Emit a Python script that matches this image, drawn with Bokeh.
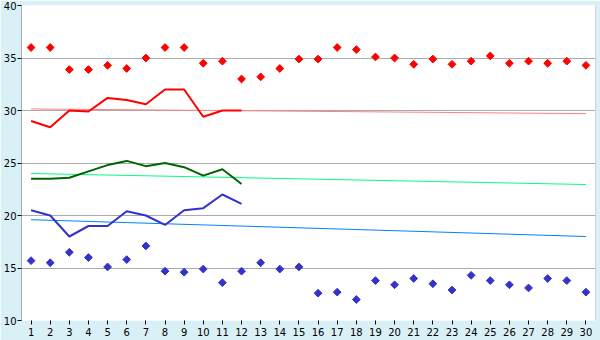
import math
from bokeh.plotting import figure
from bokeh.models import Range1d, FixedTicker, Span
from bokeh.embed import file_html
from bokeh.resources import INLINE

days = list(range(1, 31))
days12 = list(range(1, 13))

max_pts = [36.0, 36.0, 33.9, 33.9, 34.3, 34.0, 35.0, 36.0, 36.0, 34.5,
           34.7, 33.0, 33.2, 34.0, 34.9, 34.9, 36.0, 35.8, 35.1, 35.0,
           34.4, 34.9, 34.4, 34.7, 35.2, 34.5, 34.7, 34.5, 34.7, 34.3]
min_pts = [15.7, 15.5, 16.5, 16.0, 15.1, 15.8, 17.1, 14.7, 14.6, 14.9,
           13.6, 14.7, 15.5, 14.9, 15.1, 12.6, 12.7, 12.0, 13.8, 13.4,
           14.0, 13.5, 12.9, 14.3, 13.8, 13.4, 13.1, 14.0, 13.8, 12.7]
max_line = [29.0, 28.4, 30.0, 29.9, 31.2, 31.0, 30.6, 32.0, 32.0, 29.4, 30.0, 30.0]
mean_line = [23.5, 23.5, 23.6, 24.2, 24.8, 25.2, 24.7, 25.0, 24.6, 23.8, 24.4, 23.0]
min_line = [20.5, 20.0, 18.0, 19.0, 19.0, 20.4, 20.0, 19.1, 20.5, 20.7, 22.0, 21.1]
trend_x = [1, 30]
trend_max = [30.15, 29.7]
trend_mean = [24.0, 22.95]
trend_min = [19.6, 18.0]
y_ticks = [10, 15, 20, 25, 30, 35, 40]

p = figure(width=600, height=340, output_backend="svg", toolbar_location=None,
           x_range=Range1d(0.5, 30.5), y_range=Range1d(10, 40),
           min_border_left=20, min_border_right=5, min_border_top=5, min_border_bottom=20)
p.background_fill_color = "white"
p.border_fill_color = "#d9f0f7"
p.outline_line_color = None

p.xgrid.visible = False
p.ygrid.ticker = FixedTicker(ticks=[15, 20, 25, 30, 35, 40])
p.ygrid.grid_line_color = "#aaaaaa"
p.ygrid.grid_line_width = 1

for ax in (p.xaxis[0], p.yaxis[0]):
    ax.major_tick_in = 0
    ax.major_tick_out = 4
    ax.minor_tick_line_color = None
    ax.major_tick_line_color = "black"
    ax.major_label_text_font = "DejaVu Sans"
    ax.major_label_text_font_size = "10px"
    ax.major_label_text_color = "black"
p.xaxis.ticker = FixedTicker(ticks=days)
p.xaxis.axis_line_color = None
p.xaxis.major_label_standoff = 3
p.yaxis.ticker = FixedTicker(ticks=y_ticks)
p.yaxis.axis_line_color = "#aaaaaa"
p.yaxis.major_label_standoff = 1

p.add_layout(Span(location=30.5, dimension="height", line_color="#aaaaaa", line_width=1))

p.line(trend_x, trend_max, line_color="#ff8080", line_width=1)
p.line(trend_x, trend_mean, line_color="#00ff80", line_width=1)
p.line(trend_x, trend_min, line_color="#0080ff", line_width=1)

p.line(days12, max_line, line_color="#ff0000", line_width=2)
p.line(days12, mean_line, line_color="#006400", line_width=2)
p.line(days12, min_line, line_color="#3333cc", line_width=2)

p.scatter(days, max_pts, marker="square", angle=math.pi / 4, size=5.5,
          fill_color="#ff0000", line_color="#ff0000")
p.scatter(days, min_pts, marker="square", angle=math.pi / 4, size=5.5,
          fill_color="#3333cc", line_color="#3333cc")

open("out.html", "w").write(file_html(p, INLINE))
